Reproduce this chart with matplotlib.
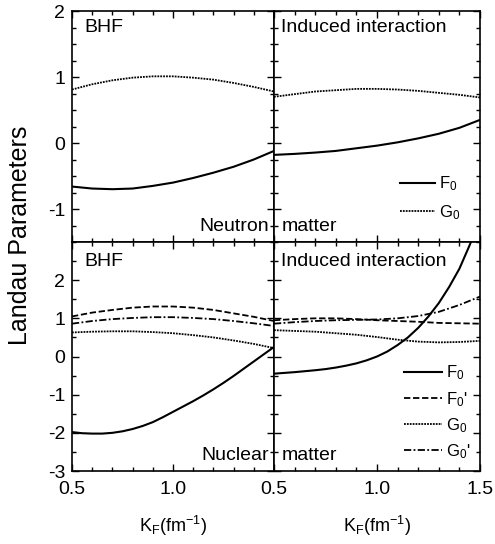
import matplotlib
matplotlib.use("Agg")
import matplotlib.pyplot as plt
from matplotlib.ticker import MultipleLocator, FixedLocator

plt.rcParams['font.family'] = ['Liberation Sans', 'DejaVu Sans']
plt.rcParams['mathtext.fontset'] = 'custom'
plt.rcParams['mathtext.rm'] = 'Liberation Sans'
plt.rcParams['mathtext.it'] = 'Liberation Sans'

kf = [0.5, 0.6, 0.7, 0.8, 0.9, 1.0, 1.1, 1.2, 1.3, 1.4, 1.5]
kf_fine = [0.5, 0.55, 0.6, 0.65, 0.7, 0.75, 0.8, 0.85, 0.9, 0.95, 1.0,
           1.05, 1.1, 1.15, 1.2, 1.25, 1.3, 1.35, 1.4, 1.45, 1.5]

# Neutron matter, BHF
neu_bhf_F0 = [-0.66, -0.69, -0.70, -0.69, -0.65, -0.60, -0.53, -0.45, -0.36, -0.25, -0.12]
neu_bhf_G0 = [0.81, 0.89, 0.95, 0.99, 1.01, 1.01, 0.99, 0.96, 0.91, 0.85, 0.78]
# Neutron matter, induced interaction
neu_ind_F0 = [-0.18, -0.165, -0.145, -0.12, -0.08, -0.04, 0.01, 0.07, 0.14, 0.23, 0.35]
neu_ind_G0 = [0.70, 0.74, 0.78, 0.80, 0.82, 0.82, 0.81, 0.79, 0.76, 0.73, 0.69]
# Nuclear matter, BHF (F0 on the fine grid)
nuc_bhf_F0 = [-1.98, -2.01, -2.02, -2.02, -2.00, -1.96, -1.90, -1.82, -1.72, -1.59, -1.45,
              -1.31, -1.17, -1.02, -0.86, -0.69, -0.51, -0.32, -0.13, 0.06, 0.25]
nuc_bhf_F0p = [1.05, 1.15, 1.22, 1.28, 1.31, 1.31, 1.28, 1.22, 1.13, 1.04, 0.93]
nuc_bhf_G0 = [0.63, 0.65, 0.66, 0.66, 0.64, 0.61, 0.56, 0.50, 0.42, 0.33, 0.22]
nuc_bhf_G0p = [0.86, 0.93, 0.98, 1.01, 1.03, 1.03, 1.01, 0.98, 0.93, 0.87, 0.80]
# Nuclear matter, induced interaction (F0 on the fine grid)
nuc_ind_F0 = [-0.45, -0.43, -0.41, -0.385, -0.36, -0.33, -0.29, -0.24, -0.18, -0.10, 0.00,
              0.13, 0.30, 0.50, 0.75, 1.05, 1.40, 1.82, 2.30, 2.92, 3.60]
nuc_ind_F0p = [0.95, 0.98, 1.00, 1.00, 0.98, 0.95, 0.93, 0.91, 0.88, 0.87, 0.86]
nuc_ind_G0 = [0.69, 0.67, 0.65, 0.61, 0.57, 0.51, 0.44, 0.39, 0.37, 0.38, 0.41]
nuc_ind_G0p = [0.86, 0.90, 0.93, 0.95, 0.96, 0.97, 1.00, 1.06, 1.17, 1.35, 1.57]

labels = [r'F$_0$', r"F$_0$'", r'G$_0$', r"G$_0$'"]

W, H = 495, 544
fig = plt.figure(figsize=(W / 100, H / 100), dpi=100)

x0, xm, x1 = 72, 274, 480
y0, ym, y1 = 11, 242, 471

def mkax(l, r, t, b):
    return fig.add_axes([l / W, 1 - b / H, (r - l) / W, (b - t) / H])

ax_tl = mkax(x0, xm, y0, ym)
ax_tr = mkax(xm, x1, y0, ym)
ax_bl = mkax(x0, xm, ym, y1)
ax_br = mkax(xm, x1, ym, y1)

ls_F0 = dict(color='black', lw=1.5, ls='-')
ls_F0p = dict(color='black', lw=1.3, ls=(0, (3.5, 1.5)))
ls_G0 = dict(color='black', lw=1.3, ls=(0, (1, 0.6)))
ls_G0p = dict(color='black', lw=1.3, ls=(0, (4, 1.3, 1, 1.3)))

ax_tl.plot(kf, neu_bhf_F0, **ls_F0)
ax_tl.plot(kf, neu_bhf_G0, **ls_G0)
ax_tr.plot(kf, neu_ind_F0, label=labels[0], **ls_F0)
ax_tr.plot(kf, neu_ind_G0, label=labels[2], **ls_G0)

ax_bl.plot(kf_fine, nuc_bhf_F0, **ls_F0)
ax_bl.plot(kf, nuc_bhf_F0p, **ls_F0p)
ax_bl.plot(kf, nuc_bhf_G0, **ls_G0)
ax_bl.plot(kf, nuc_bhf_G0p, **ls_G0p)
ax_br.plot(kf_fine, nuc_ind_F0, label=labels[0], **ls_F0)
ax_br.plot(kf, nuc_ind_F0p, label=labels[1], **ls_F0p)
ax_br.plot(kf, nuc_ind_G0, label=labels[2], **ls_G0)
ax_br.plot(kf, nuc_ind_G0p, label=labels[3], **ls_G0p)

for ax in (ax_tl, ax_tr, ax_bl, ax_br):
    ax.set_xlim(0.5, 1.5)
    ax.xaxis.set_major_locator(FixedLocator([0.5, 1.0, 1.5]))
    ax.xaxis.set_minor_locator(MultipleLocator(0.1))
    ax.tick_params(which='both', direction='in', top=True, right=True,
                   labelsize=14, width=1)
    ax.tick_params(which='major', length=5)
    ax.tick_params(which='minor', length=3)
    ax.tick_params(axis='x', pad=7)
    ax.tick_params(axis='y', pad=5)
    for s in ax.spines.values():
        s.set_linewidth(1.2)

for ax in (ax_tl, ax_tr):
    ax.set_ylim(-1.5, 2)
    ax.yaxis.set_major_locator(FixedLocator([-1, 0, 1, 2]))
    ax.yaxis.set_minor_locator(MultipleLocator(0.25))
    ax.tick_params(labelbottom=False)
for ax in (ax_bl, ax_br):
    ax.set_ylim(-3, 3)
    ax.yaxis.set_major_locator(FixedLocator([-3, -2, -1, 0, 1, 2]))
    ax.yaxis.set_minor_locator(MultipleLocator(0.5))

ax_tr.tick_params(labelleft=False)
ax_br.tick_params(labelleft=False)
ax_bl.xaxis.set_major_locator(FixedLocator([0.5, 1.0]))
ax_bl.set_xticklabels(['0.5', '1.0'])
ax_br.set_xticklabels(['0.5', '1.0', '1.5'])
ax_tl.set_yticklabels(['-1', '0', '1', '2'])
ax_bl.set_yticklabels(['-3', '-2', '-1', '0', '1', '2'])

tfs = 14
ax_tl.text(0.06, 0.965, 'BHF', transform=ax_tl.transAxes, ha='left', va='top', fontsize=tfs)
ax_tr.text(0.035, 0.965, 'Induced interaction', transform=ax_tr.transAxes, ha='left', va='top', fontsize=tfs)
ax_tl.text(0.975, 0.03, 'Neutron', transform=ax_tl.transAxes, ha='right', va='bottom', fontsize=tfs)
ax_tr.text(0.035, 0.03, 'matter', transform=ax_tr.transAxes, ha='left', va='bottom', fontsize=tfs)
ax_bl.text(0.06, 0.95, 'BHF', transform=ax_bl.transAxes, ha='left', va='top', fontsize=tfs)
ax_br.text(0.035, 0.95, 'Induced interaction', transform=ax_br.transAxes, ha='left', va='top', fontsize=tfs)
ax_bl.text(0.975, 0.03, 'Nuclear', transform=ax_bl.transAxes, ha='right', va='bottom', fontsize=tfs)
ax_br.text(0.035, 0.03, 'matter', transform=ax_br.transAxes, ha='left', va='bottom', fontsize=tfs)

leg_kw = dict(frameon=False, fontsize=12, handletextpad=0.2, loc='lower right')
ax_tr.legend(labelspacing=0.6, borderaxespad=0.8, handlelength=2.1, **leg_kw)
ax_br.legend(labelspacing=0.45, borderaxespad=0.2, handlelength=2.3, **leg_kw)

ax_bl.set_xlabel(r'K$_\mathrm{F}$(fm$^{-1}$)', fontsize=13, labelpad=12)
ax_br.set_xlabel(r'K$_\mathrm{F}$(fm$^{-1}$)', fontsize=13, labelpad=12)
fig.text(20 / W, 1 - 235 / H, 'Landau Parameters', rotation=90, ha='center', va='center', fontsize=18)

fig.savefig('out.png', dpi=100)
